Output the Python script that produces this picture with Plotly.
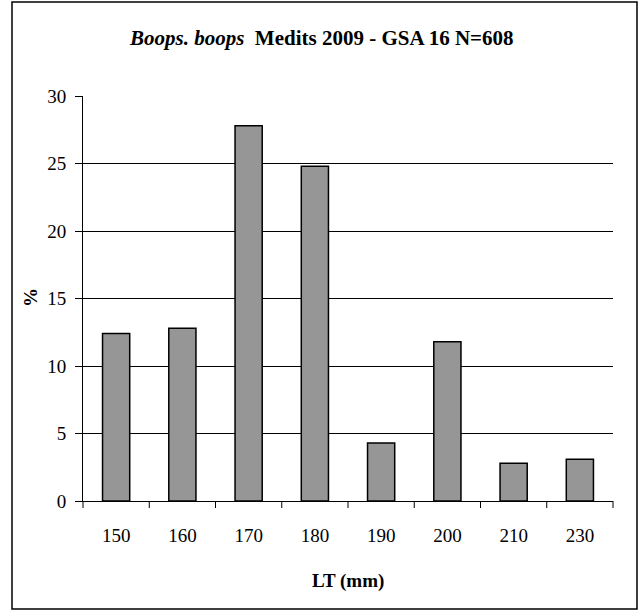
import plotly.graph_objects as go

# Length-class frequency distribution (LT, mm) and share of the sample (%)
length_classes = ["150", "160", "170", "180", "190", "200", "210", "230"]
percent = [12.4, 12.8, 27.8, 24.8, 4.3, 11.8, 2.8, 3.1]
y_ticks = [0, 5, 10, 15, 20, 25, 30]

title_species = "Boops. boops"
title_rest = "Medits 2009 - GSA 16 N=608"
x_title = "LT (mm)"
y_title = "%"

W, H = 638, 612
ML, MR, MT, MB = 83, 25, 96, 111

FONT = "Liberation Serif, Times New Roman, serif"

fig = go.Figure(
    go.Bar(
        x=length_classes,
        y=percent,
        width=0.41,
        marker=dict(color="#969696", line=dict(color="black", width=1.5)),
        hoverinfo="x+y",
    )
)

plot_w = W - ML - MR
plot_h = H - MT - MB

def px_to_paper_x(px):
    return (px - ML) / plot_w

def px_to_paper_y(py):
    return (H - MB - py) / plot_h

fig.update_layout(
    width=W,
    height=H,
    margin=dict(l=ML, r=MR, t=MT, b=MB, pad=0),
    paper_bgcolor="white",
    plot_bgcolor="white",
    showlegend=False,
    font=dict(family=FONT, size=19, color="black"),
    xaxis=dict(
        type="category",
        showline=True,
        linecolor="black",
        linewidth=1,
        showgrid=False,
        ticks="",
        tickfont=dict(size=19),
        ticklabelstandoff=17,
        fixedrange=True,
    ),
    yaxis=dict(
        range=[0, 30],
        tickvals=y_ticks,
        showline=True,
        linecolor="black",
        linewidth=1,
        showgrid=True,
        gridcolor="black",
        gridwidth=1,
        zeroline=False,
        ticks="outside",
        ticklen=7,
        tickcolor="black",
        tickfont=dict(size=19),
        ticklabelstandoff=5,
        fixedrange=True,
    ),
    shapes=[
        # outer chart frame
        dict(
            type="rect",
            xref="paper",
            yref="paper",
            x0=px_to_paper_x(12),
            x1=px_to_paper_x(637),
            y0=px_to_paper_y(609),
            y1=px_to_paper_y(2),
            line=dict(color="black", width=1.5),
            layer="below",
        ),
    ]
    + [
        # tick marks at category boundaries on the x axis
        dict(
            type="line",
            xref="paper",
            yref="paper",
            x0=i / len(length_classes),
            x1=i / len(length_classes),
            y0=0,
            y1=px_to_paper_y(H - MB + 7),
            line=dict(color="black", width=1),
        )
        for i in range(len(length_classes) + 1)
    ],
    annotations=[
        dict(
            text=f"<b><i>{title_species}</i>  {title_rest}</b>",
            xref="paper",
            yref="paper",
            x=px_to_paper_x(321),
            y=px_to_paper_y(38),
            xanchor="center",
            yanchor="middle",
            showarrow=False,
            font=dict(size=21, family=FONT),
        ),
        dict(
            text=f"<b>{x_title}</b>",
            xref="paper",
            yref="paper",
            x=0.5,
            y=px_to_paper_y(581),
            xanchor="center",
            yanchor="middle",
            showarrow=False,
            font=dict(size=19, family=FONT),
        ),
        dict(
            text=f"<b>{y_title}</b>",
            xref="paper",
            yref="paper",
            x=px_to_paper_x(30),
            y=px_to_paper_y(298),
            xanchor="center",
            yanchor="middle",
            textangle=-90,
            showarrow=False,
            font=dict(size=19, family=FONT),
        ),
    ],
)

fig.write_html("out.html")
